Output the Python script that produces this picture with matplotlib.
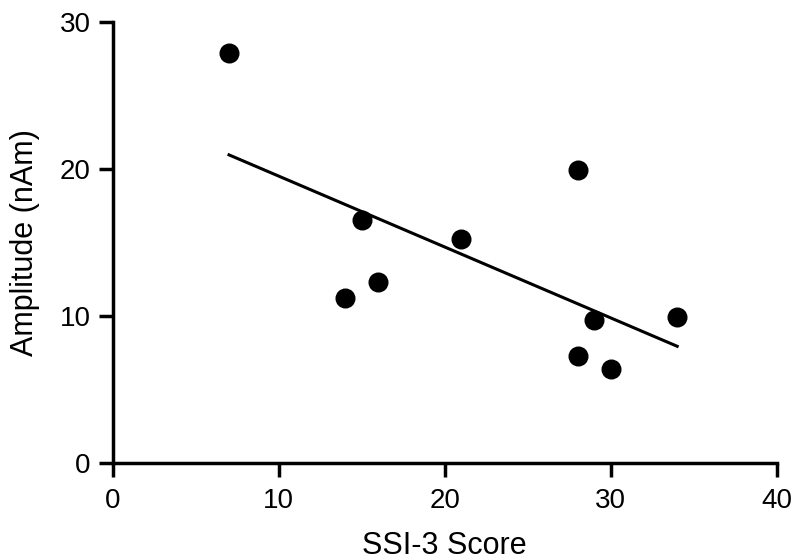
import numpy as np
import matplotlib
matplotlib.use('Agg')
import matplotlib.pyplot as plt

plt.rcParams['font.family'] = ['Liberation Sans', 'DejaVu Sans']

# SSI-3 score vs amplitude
ssi_score = [7, 14, 15, 16, 21, 28, 28, 29, 30, 34]
amplitude = [27.9, 11.2, 16.5, 12.3, 15.25, 19.9, 7.25, 9.7, 6.4, 9.9]
x_ticks = [0, 10, 20, 30, 40]
y_ticks = [0, 10, 20, 30]

fig = plt.figure(figsize=(8, 5.6), dpi=100)
ax = fig.add_axes([0.141, 0.173, 0.83, 0.788])

ax.scatter(ssi_score, amplitude, s=180, color='black', zorder=3)

# regression line
slope, intercept = np.polyfit(ssi_score, amplitude, 1)
xl = np.array([min(ssi_score), max(ssi_score)])
ax.plot(xl, slope * xl + intercept, color='black', lw=2.2)

ax.set_xlim(0, 40)
ax.set_ylim(0, 30)
ax.set_xticks(x_ticks)
ax.set_yticks(y_ticks)
ax.spines['top'].set_visible(False)
ax.spines['right'].set_visible(False)
for s in ['left', 'bottom']:
    ax.spines[s].set_linewidth(2.5)
ax.tick_params(width=2.5, length=10, labelsize=20, pad=6)
ax.tick_params(axis='x', pad=8)
ax.set_xlabel('SSI-3 Score', fontsize=22, labelpad=12)
ax.set_ylabel('Amplitude (nAm)', fontsize=22, labelpad=14)

fig.savefig('out.png', dpi=100)
